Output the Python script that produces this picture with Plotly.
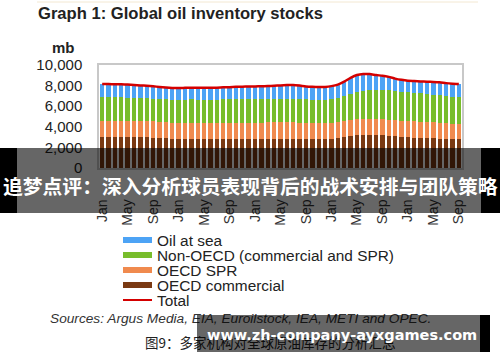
import plotly.graph_objects as go

# ---------------- data (million barrels, monthly) ----------------
month_pos = list(range(57))  # Jan (yr1) ... Sep (yr5)
tick_pos = [0, 4, 8, 12, 16, 20, 24, 28, 32, 36, 40, 44, 48, 52, 56]
tick_labels = ["Jan", "May", "Sep", "Jan", "May", "Sep", "Jan", "May", "Sep",
               "Jan", "May", "Sep", "Jan", "May", "Sep"]

oecd_commercial = [3000, 3010, 3020, 3000, 3010, 2990, 2980, 2970, 2950, 2900,
                   2870, 2840, 2830, 2830, 2820, 2830, 2820, 2810, 2810, 2820,
                   2830, 2820, 2830, 2830, 2820, 2830, 2840, 2850, 2850, 2860,
                   2850, 2840, 2820, 2810, 2800, 2810, 2830, 2900, 3030, 3150,
                   3230, 3250, 3250, 3240, 3200, 3120, 3060, 3020, 2990, 2960,
                   2930, 2900, 2880, 2860, 2830, 2800, 2780]
oecd_spr = [1600, 1590, 1590, 1590, 1580, 1580, 1580, 1570, 1570, 1570,
            1570, 1570, 1570, 1570, 1570, 1560, 1560, 1560, 1560, 1560,
            1560, 1570, 1570, 1570, 1580, 1580, 1580, 1570, 1570, 1570,
            1570, 1570, 1570, 1570, 1570, 1570, 1570, 1580, 1550, 1530,
            1510, 1510, 1510, 1520, 1540, 1580, 1590, 1590, 1590, 1590,
            1580, 1560, 1540, 1520, 1510, 1510, 1510]
non_oecd = [2280, 2270, 2250, 2260, 2240, 2240, 2230, 2220, 2220, 2230,
            2240, 2240, 2240, 2250, 2270, 2260, 2260, 2260, 2270, 2280,
            2280, 2290, 2290, 2280, 2290, 2290, 2280, 2290, 2300, 2300,
            2300, 2280, 2270, 2270, 2270, 2270, 2300, 2340, 2420, 2520,
            2640, 2760, 2820, 2830, 2840, 2860, 2850, 2810, 2780, 2750,
            2730, 2720, 2700, 2670, 2640, 2610, 2590]
oil_at_sea = [1280, 1280, 1270, 1270, 1270, 1250, 1230, 1220, 1190, 1170,
              1130, 1120, 1120, 1130, 1140, 1140, 1140, 1160, 1160, 1170,
              1180, 1200, 1210, 1230, 1230, 1230, 1250, 1270, 1300, 1320,
              1340, 1310, 1260, 1230, 1220, 1220, 1250, 1280, 1380, 1550,
              1650, 1610, 1540, 1430, 1380, 1290, 1180, 1140, 1120, 1140,
              1160, 1200, 1240, 1270, 1260, 1270, 1280]
total = [8160, 8150, 8130, 8120, 8100, 8060, 8020, 7980, 7930, 7870,
         7810, 7770, 7760, 7780, 7800, 7790, 7780, 7790, 7800, 7830,
         7850, 7880, 7900, 7910, 7920, 7930, 7950, 7980, 8020, 8050,
         8060, 8000, 7920, 7880, 7860, 7870, 7950, 8100, 8380, 8750,
         9030, 9130, 9120, 9020, 8960, 8850, 8680, 8560, 8480, 8440,
         8400, 8380, 8360, 8320, 8240, 8190, 8160]

series_names = ["Oil at sea", "Non-OECD (commercial and SPR)", "OECD SPR",
                "OECD commercial", "Total"]

# ---------------- styling ----------------
C_SEA = "#4da3f5"
C_NON = "#78bd2b"
C_SPR = "#f08a4e"
C_COM = "#7a3912"
C_TOT = "#d40000"
FONT = "Liberation Sans, Arial, sans-serif"
CJK = "Noto Sans CJK SC"

W, H = 500, 362
L, R, T, B = 99, 38, 65, 194
PW, PH = W - L - R, H - T - B


def px(x):
    return (x - L) / PW


def py(y):
    return (H - B - y) / PH


fig = go.Figure()
for vals, name, col in [(oecd_commercial, series_names[3], C_COM),
                        (oecd_spr, series_names[2], C_SPR),
                        (non_oecd, series_names[1], C_NON),
                        (oil_at_sea, series_names[0], C_SEA)]:
    fig.add_trace(go.Bar(x=month_pos, y=vals, name=name,
                         marker=dict(color=col, line=dict(width=0))))
fig.add_trace(go.Scatter(x=month_pos, y=total, name=series_names[4], mode="lines",
                         line=dict(color=C_TOT, width=2.5, shape="spline",
                                   smoothing=0.5)))

shapes = []
annotations = []

# faint rule at the very top
shapes.append(dict(type="line", xref="paper", yref="paper",
                   x0=px(37), x1=px(478), y0=py(2), y1=py(2),
                   line=dict(color="#f3e8d2", width=1)))

# title + unit
annotations.append(dict(text="<b>Graph 1: Global oil inventory stocks</b>",
                        xref="paper", yref="paper", x=px(36), y=py(13),
                        xanchor="left", yanchor="middle", showarrow=False,
                        font=dict(family=FONT, size=16.6, color="#222")))
annotations.append(dict(text="<b>mb</b>", xref="paper", yref="paper",
                        x=px(50), y=py(47), xanchor="left", yanchor="middle",
                        showarrow=False,
                        font=dict(family=FONT, size=15, color="#222")))

# legend (manual)
leg_rows = [(series_names[0], C_SEA, 240), (series_names[1], C_NON, 255),
            (series_names[2], C_SPR, 270), (series_names[3], C_COM, 285)]
for name, col, yy in leg_rows:
    shapes.append(dict(type="rect", xref="paper", yref="paper",
                       x0=px(123), x1=px(152), y0=py(yy + 3), y1=py(yy - 3),
                       fillcolor=col, line=dict(width=0)))
    annotations.append(dict(text=name, xref="paper", yref="paper",
                            x=px(155), y=py(yy), xanchor="left", yanchor="middle",
                            showarrow=False,
                            font=dict(family=FONT, size=15.4, color="#222")))
shapes.append(dict(type="line", xref="paper", yref="paper",
                   x0=px(123), x1=px(152), y0=py(300), y1=py(300),
                   line=dict(color=C_TOT, width=2)))
annotations.append(dict(text=series_names[4], xref="paper", yref="paper",
                        x=px(155), y=py(300), xanchor="left", yanchor="middle",
                        showarrow=False,
                        font=dict(family=FONT, size=15.4, color="#222")))

# sources
annotations.append(dict(text="<i>Sources: Argus Media, EIA, Euroilstock, IEA, METI and OPEC.</i>",
                        xref="paper", yref="paper", x=px(48), y=py(318),
                        xanchor="left", yanchor="middle", showarrow=False,
                        font=dict(family=FONT, size=13.7, color="#333")))
# caption
annotations.append(dict(text="图9：多家机构对全球原油库存的分析汇总",
                        xref="paper", yref="paper", x=px(143), y=py(342),
                        xanchor="left", yanchor="middle", showarrow=False,
                        font=dict(family=CJK, size=13.5, color="#222")))

# overlay banner across the chart
shapes.append(dict(type="rect", xref="paper", yref="paper", layer="above",
                   x0=px(17), x1=px(481), y0=py(213), y1=py(148),
                   fillcolor="rgba(0,0,0,0.6)", line=dict(width=0)))
shapes.append(dict(type="rect", xref="paper", yref="paper", layer="above",
                   x0=px(0), x1=px(17), y0=py(213), y1=py(148),
                   fillcolor="#000", line=dict(width=0)))
shapes.append(dict(type="rect", xref="paper", yref="paper", layer="above",
                   x0=px(481), x1=px(500), y0=py(213), y1=py(148),
                   fillcolor="#000", line=dict(width=0)))
annotations.append(dict(text="<b>追梦点评：深入分析球员表现背后的战术安排与团队策略</b>",
                        xref="paper", yref="paper", x=px(250), y=py(185),
                        xanchor="center", yanchor="middle", showarrow=False,
                        font=dict(family=CJK, size=19.8, color="#fff")))

# watermark box at bottom (annotation so it covers the caption)
annotations.append(dict(text=" ", xref="paper", yref="paper",
                        x=px(197), y=py(315), xanchor="left", yanchor="top",
                        width=283, height=37, borderpad=0, borderwidth=0,
                        bgcolor="rgba(0,0,0,0.6)", showarrow=False))
annotations.append(dict(text=" ", xref="paper", yref="paper",
                        x=px(480), y=py(315), xanchor="left", yanchor="top",
                        width=10, height=37, borderpad=0, borderwidth=0,
                        bgcolor="#000", showarrow=False))
annotations.append(dict(text="<b>www.zh-company-ayxgames.com</b>",
                        xref="paper", yref="paper", x=px(342), y=py(335),
                        xanchor="center", yanchor="middle", showarrow=False,
                        font=dict(family="DejaVu Sans", size=14.5, color="#fff")))

fig.update_layout(
    width=W, height=H,
    margin=dict(l=L, r=R, t=T, b=B, pad=0),
    paper_bgcolor="white", plot_bgcolor="white",
    barmode="stack", bargap=0.32,
    showlegend=False,
    font=dict(family=FONT, color="#222"),
    shapes=shapes, annotations=annotations,
)
fig.update_xaxes(range=[-0.5, 56.5], tickmode="array", tickvals=tick_pos,
                 ticktext=tick_labels, tickangle=-90, ticks="",
                 ticklabelstandoff=24, tickfont=dict(family=FONT, size=14, color="#333"),
                 showgrid=False, zeroline=False, showline=True, mirror=True,
                 linecolor="#c8c8c8", linewidth=1.5)
fig.update_yaxes(range=[0, 10000], dtick=2000, tickformat=",d", ticks="",
                 ticklabelstandoff=12, tickfont=dict(family=FONT, size=15, color="#222"),
                 showgrid=False, zeroline=False, showline=True, mirror=True,
                 linecolor="#c8c8c8", linewidth=1.5)

fig.write_html("out.html", config={"displayModeBar": False},
               post_script="document.body.style.margin='0';document.body.style.overflow='hidden';")
